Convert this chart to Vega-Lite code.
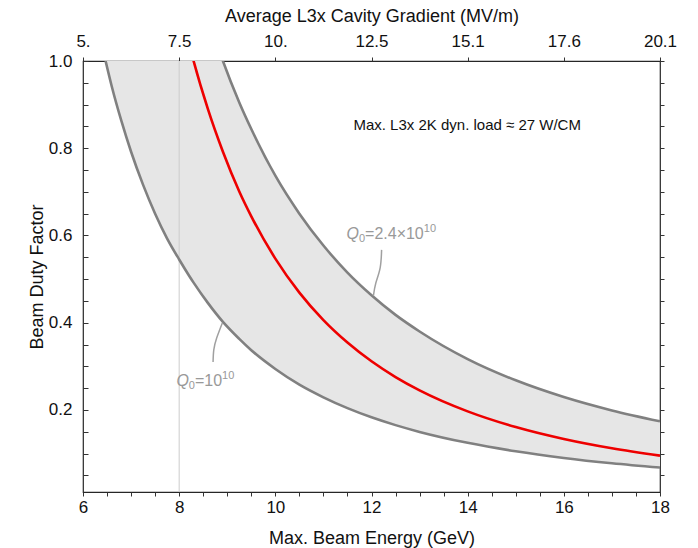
{
  "$schema": "https://vega.github.io/schema/vega-lite/v6.json",
  "width": 577,
  "height": 431,
  "autosize": {"type": "none"},
  "padding": {"left": 83, "top": 61, "right": 38, "bottom": 56},
  "config": {
    "view": {"stroke": "#262626", "strokeWidth": 1.2},
    "font": "Liberation Sans",
    "axis": {
      "domain": false,
      "grid": false,
      "zindex": 1,
      "tickCount": 100,
      "tickSize": -5,
      "tickWidth": 1,
      "labelFont": "Liberation Sans",
      "titleFont": "Liberation Sans",
      "labelColor": "#111111",
      "titleColor": "#111111",
      "labelFontSize": 17,
      "titleFontSize": 18,
      "titleFontWeight": "normal",
      "labelOverlap": false,
      "labelFlush": false
    }
  },
  "datasets": {
    "curves": [
      {"E": 6.47, "lo": 1.0, "up": 2.49, "red": null},
      {"E": 6.6, "lo": 0.941, "up": 2.344, "red": null},
      {"E": 6.8, "lo": 0.862, "up": 2.144, "red": null},
      {"E": 7.0, "lo": 0.792, "up": 1.969, "red": null},
      {"E": 7.25, "lo": 0.716, "up": 1.778, "red": null},
      {"E": 7.5, "lo": 0.65, "up": 1.613, "red": null},
      {"E": 7.75, "lo": 0.593, "up": 1.47, "red": null},
      {"E": 8.0, "lo": 0.545, "up": 1.344, "red": null},
      {"E": 8.2, "lo": 0.509, "up": 1.255, "red": 1.042},
      {"E": 8.3, "lo": 0.492, "up": 1.214, "red": 1.0},
      {"E": 8.6, "lo": 0.445, "up": 1.101, "red": 0.889},
      {"E": 8.91, "lo": 0.402, "up": 1.0, "red": 0.792},
      {"E": 9.25, "lo": 0.363, "up": 0.905, "red": 0.701},
      {"E": 9.5, "lo": 0.337, "up": 0.844, "red": 0.644},
      {"E": 10.0, "lo": 0.294, "up": 0.737, "red": 0.547},
      {"E": 10.5, "lo": 0.258, "up": 0.65, "red": 0.469},
      {"E": 11.0, "lo": 0.229, "up": 0.577, "red": 0.406},
      {"E": 11.5, "lo": 0.2042, "up": 0.515, "red": 0.3546},
      {"E": 12.0, "lo": 0.1832, "up": 0.463, "red": 0.3116},
      {"E": 12.5, "lo": 0.1653, "up": 0.418, "red": 0.2755},
      {"E": 13.0, "lo": 0.1498, "up": 0.38, "red": 0.245},
      {"E": 14.0, "lo": 0.1247, "up": 0.3167, "red": 0.1968},
      {"E": 15.0, "lo": 0.1053, "up": 0.268, "red": 0.1608},
      {"E": 16.0, "lo": 0.0901, "up": 0.2297, "red": 0.1334},
      {"E": 17.0, "lo": 0.0779, "up": 0.199, "red": 0.1121},
      {"E": 18.0, "lo": 0.068, "up": 0.174, "red": 0.0953}
    ],
    "callouts": [
      {"id": "up", "k": 0, "E": 12.21, "y": 0.567},
      {"id": "up", "k": 1, "E": 12.18, "y": 0.526},
      {"id": "up", "k": 2, "E": 12.09, "y": 0.491},
      {"id": "up", "k": 3, "E": 12.04, "y": 0.462},
      {"id": "lo", "k": 0, "E": 8.9, "y": 0.4},
      {"id": "lo", "k": 1, "E": 8.78, "y": 0.365},
      {"id": "lo", "k": 2, "E": 8.72, "y": 0.338},
      {"id": "lo", "k": 3, "E": 8.705, "y": 0.31}
    ],
    "qlabels": [
      {"E": 11.481, "y": 0.592, "mid": "=2.4×10", "Esup": 13.087},
      {"E": 7.943, "y": 0.2554, "mid": "=10", "Esup": 8.892}
    ],
    "note": [
      {"E": 13.99, "y": 0.853, "t": "Max. L3x 2K dyn. load ≈ 27 W/CM"}
    ]
  },
  "layer": [
    {
      "layer": [
        {
          "data": {"name": "curves"},
          "mark": {"type": "area", "color": "#e6e6e6", "clip": true, "interpolate": "monotone"},
          "encoding": {
            "x": {
              "field": "E", "type": "quantitative",
              "scale": {"domain": [6, 18], "nice": false, "zero": false},
              "axis": {
                "orient": "bottom",
                "title": "Max. Beam Energy (GeV)",
                "tickColor": "#333333",
                "tickCount": 100,
                "tickSize": 4,
                "values": [6, 6.5, 7, 7.5, 8, 8.5, 9, 9.5, 10, 10.5, 11, 11.5, 12, 12.5, 13, 13.5, 14, 14.5, 15, 15.5, 16, 16.5, 17, 17.5, 18],
                "labelExpr": "datum.value % 2 === 0 ? format(datum.value, 'd') : ''",
                "labelOverlap": false,
                "labelPadding": 3.5,
                "titleX": 288.5,
                "titleY": 46,
                "titleBaseline": "middle"
              }
            },
            "y": {
              "field": "lo", "type": "quantitative",
              "scale": {"domain": [0.012, 1], "nice": false, "zero": false},
              "axis": {
                "orient": "left",
                "title": "Beam Duty Factor",
                "tickColor": "#333333",
                "tickCount": 100,
                "values": [0.05, 0.1, 0.15, 0.2, 0.25, 0.3, 0.35, 0.4, 0.45, 0.5, 0.55, 0.6, 0.65, 0.7, 0.75, 0.8, 0.85, 0.9, 0.95, 1.0],
                "labelExpr": "indexof(['0.20', '0.40', '0.60', '0.80', '1.00'], format(datum.value, '.2f')) >= 0 ? format(datum.value, '.1f') : ''",
                "labelOverlap": false,
                "labelPadding": 16,
                "titleX": -46,
                "titleY": 215.5,
                "titleBaseline": "middle"
              }
            },
            "y2": {"field": "up"}
          }
        },
        {
          "data": {"values": [{}]},
          "mark": {"type": "rule", "color": "#cccccc", "strokeWidth": 1},
          "encoding": {"x": {"datum": 8}}
        },
        {
          "data": {"name": "curves"},
          "mark": {"type": "line", "color": "#808080", "strokeWidth": 2.6, "clip": true, "interpolate": "monotone"},
          "encoding": {
            "x": {"field": "E", "type": "quantitative"},
            "y": {"field": "lo", "type": "quantitative"}
          }
        },
        {
          "data": {"name": "curves"},
          "mark": {"type": "line", "color": "#808080", "strokeWidth": 2.6, "clip": true, "interpolate": "monotone"},
          "encoding": {
            "x": {"field": "E", "type": "quantitative"},
            "y": {"field": "up", "type": "quantitative"}
          }
        },
        {
          "data": {"name": "curves"},
          "mark": {"type": "line", "color": "#ee0000", "strokeWidth": 2.6, "clip": true, "interpolate": "monotone"},
          "encoding": {
            "x": {"field": "E", "type": "quantitative"},
            "y": {"field": "red", "type": "quantitative"}
          }
        },
        {
          "data": {"name": "callouts"},
          "mark": {"type": "line", "color": "#a0a0a0", "strokeWidth": 1.5, "interpolate": "natural"},
          "encoding": {
            "x": {"field": "E", "type": "quantitative"},
            "y": {"field": "y", "type": "quantitative"},
            "detail": {"field": "id"},
            "order": {"field": "k"}
          }
        },
        {
          "data": {"name": "qlabels"},
          "mark": {"type": "text", "text": "Q", "color": "#999999", "fontSize": 16, "fontStyle": "italic", "font": "Liberation Sans", "align": "left", "baseline": "alphabetic"},
          "encoding": {
            "x": {"field": "E", "type": "quantitative"},
            "y": {"field": "y", "type": "quantitative"}
          }
        },
        {
          "data": {"name": "qlabels"},
          "mark": {"type": "text", "text": "0", "color": "#999999", "fontSize": 11, "font": "Liberation Sans", "align": "left", "baseline": "alphabetic", "dx": 12.4, "dy": 3},
          "encoding": {
            "x": {"field": "E", "type": "quantitative"},
            "y": {"field": "y", "type": "quantitative"}
          }
        },
        {
          "data": {"name": "qlabels"},
          "mark": {"type": "text", "color": "#999999", "fontSize": 16, "font": "Liberation Sans", "align": "left", "baseline": "alphabetic", "dx": 18.5},
          "encoding": {
            "x": {"field": "E", "type": "quantitative"},
            "y": {"field": "y", "type": "quantitative"},
            "text": {"field": "mid"}
          }
        },
        {
          "data": {"name": "qlabels"},
          "mark": {"type": "text", "text": "10", "color": "#999999", "fontSize": 11, "font": "Liberation Sans", "align": "left", "baseline": "alphabetic", "dy": -6.5},
          "encoding": {
            "x": {"field": "Esup", "type": "quantitative"},
            "y": {"field": "y", "type": "quantitative"}
          }
        },
        {
          "data": {"name": "note"},
          "mark": {"type": "text", "color": "#111111", "fontSize": 15, "font": "Liberation Sans", "align": "center", "baseline": "middle"},
          "encoding": {
            "x": {"field": "E", "type": "quantitative"},
            "y": {"field": "y", "type": "quantitative"},
            "text": {"field": "t"}
          }
        }
      ]
    },
    {
      "data": {"name": "curves"},
      "mark": {"type": "point", "opacity": 0},
      "encoding": {
        "x": {
          "field": "E", "type": "quantitative",
          "scale": {"domain": [6, 18], "nice": false, "zero": false},
          "axis": {
            "orient": "top",
            "title": "Average L3x Cavity Gradient (MV/m)",
            "tickColor": "#333333",
            "tickCount": 100,
            "tickSize": 4,
            "values": [6, 8, 10, 12, 14, 16, 18],
            "labelExpr": "datum.value == 6 ? '5.' : datum.value == 8 ? '7.5' : datum.value == 10 ? '10.' : datum.value == 12 ? '12.5' : datum.value == 14 ? '15.1' : datum.value == 16 ? '17.6' : '20.1'",
            "labelOverlap": false,
            "labelPadding": 7,
            "titleX": 288.5,
            "titleY": -45,
            "titleBaseline": "middle"
          }
        },
        "y": {
          "field": "lo", "type": "quantitative",
          "scale": {"domain": [0.012, 1], "nice": false, "zero": false},
          "axis": {
            "orient": "right",
            "title": null,
            "tickColor": "#333333",
            "tickCount": 100,
            "tickSize": 4,
            "values": [0.05, 0.1, 0.15, 0.2, 0.25, 0.3, 0.35, 0.4, 0.45, 0.5, 0.55, 0.6, 0.65, 0.7, 0.75, 0.8, 0.85, 0.9, 0.95, 1.0],
            "labels": false
          }
        }
      }
    }
  ],
  "resolve": {"scale": {"x": "independent", "y": "independent"}}
}
